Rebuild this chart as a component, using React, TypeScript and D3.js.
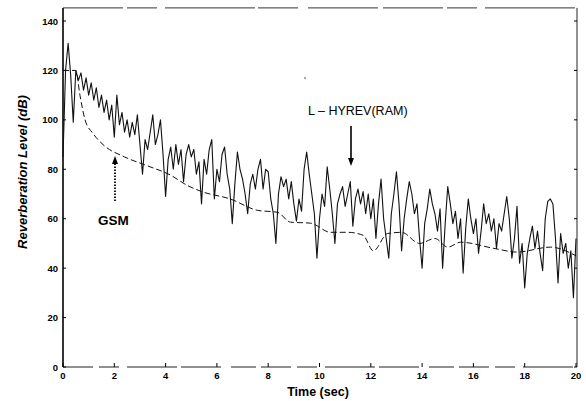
import React from "react";
import * as d3 from "d3";

const W = 586;
const H = 401;

const xTicks = [0, 2, 4, 6, 8, 10, 12, 14, 16, 18, 20];
const yTicks = [0, 20, 40, 60, 80, 100, 120, 140];

const hyrevStart = 0;
const hyrevStep = 0.1;
const hyrevLevels = [
  85, 120, 131, 118, 99, 120, 116, 119, 112, 117,
  110, 115, 108, 113, 105, 110, 103, 108, 100, 106,
  93, 110, 98, 103, 95, 100, 93, 99, 94, 102,
  90, 78, 92, 88, 95, 102, 90, 94, 100, 86,
  69, 84, 89, 80, 90, 82, 88, 75, 86, 90,
  85, 88, 78, 83, 66, 84, 78, 88, 92, 68,
  80, 75, 86, 89, 78, 72, 58, 74, 87, 80,
  76, 70, 62, 74, 78, 72, 80, 84, 72, 80,
  79, 68, 62, 50, 70, 77, 73, 76, 68, 75,
  66, 59, 68, 63, 80, 87, 78, 70, 62, 44,
  60, 70, 65, 81, 72, 62, 50, 66, 70, 73,
  65, 70, 75, 57, 68, 72, 66, 71, 62, 70,
  60, 68, 52, 66, 76, 60, 52, 44, 62, 70,
  79, 66, 47, 60, 68, 75, 70, 62, 66, 52,
  40, 58, 64, 72, 66, 62, 55, 64, 40, 58,
  73, 66, 58, 63, 52, 60, 38, 56, 68, 60,
  54, 60, 46, 55, 66, 58, 62, 55, 60, 48,
  58, 55, 62, 69, 60, 44, 52, 65, 42, 50,
  32, 46, 52, 57, 48, 55, 46, 39, 60, 67,
  68, 66, 52, 34, 54, 46, 50, 40, 47, 28,
  52,
];

const gsmTimes = [0, 0.5, 0.66, 0.86, 1.17, 1.56, 2.4, 3.24, 4.2, 4.84, 5.4, 6.52, 7.58, 8.36, 8.87, 9.65, 10.43, 11.1, 11.7, 12.1, 12.65, 13.2, 13.9, 14.5, 15.0, 15.5, 16.8, 17.7, 19.0, 20];
const gsmLevels = [120, 120, 110, 100, 94.5, 90, 85, 81.6, 77.6, 73.5, 71, 68, 63.4, 62.6, 58.6, 58.2, 54.5, 54.5, 53.3, 47, 54, 54.5, 50, 52, 48.5, 50.5, 48, 46.5, 48.5, 45];

export default function App() {
  const x = d3.scaleLinear().domain([0, 20]).range([63, 576]);
  const y = d3.scaleLinear().domain([0, 140]).range([367, 21]);
  const top = y(145.3);
  const left = x(0);
  const right = x(20) + 1;
  const bottom = y(0);

  const hyrev = hyrevLevels.map((v, i) => [hyrevStart + i * hyrevStep, v] as [number, number]);
  const gsm = gsmTimes.map((t, i) => [t, gsmLevels[i]] as [number, number]);
  const lineGen = d3.line<[number, number]>().x((d) => x(d[0])).y((d) => y(d[1]));
  const smooth = d3.line<[number, number]>().x((d) => x(d[0])).y((d) => y(d[1])).curve(d3.curveMonotoneX);

  const font = "'Liberation Sans', Arial, sans-serif";
  const arrowX = 351;
  const gsmArrowX = 115;

  return (
    <svg width={W} height={H} style={{ position: "absolute", left: 0, top: 0, background: "#fff" }}>
      {/* frame */}
      <line x1={left} x2={right} y1={top} y2={top} stroke="#333" strokeWidth={1} strokeDasharray="60,4,30,8,90,3,40,10,70,5" />
      <line x1={left} x2={right} y1={bottom} y2={bottom} stroke="#222" strokeWidth={1.2} strokeDasharray="30,6,20,8,50,4,40,10,25,5" />
      <line x1={right} x2={right} y1={top} y2={bottom} stroke="#222" strokeWidth={1} />
      <line x1={left} x2={left} y1={top} y2={bottom} stroke="#000" strokeWidth={1.6} />

      {/* y ticks */}
      {yTicks.map((t) => (
        <g key={"y" + t}>
          <line x1={left} x2={left + 3} y1={y(t)} y2={y(t)} stroke="#000" strokeWidth={1} />
          <line x1={right} x2={right - 3} y1={y(t)} y2={y(t)} stroke="#000" strokeWidth={1} />
          <text x={left - 5} y={y(t) + 3.5} textAnchor="end" fontFamily={font} fontWeight="bold" fontSize={9.5} fill="#000">
            {t}
          </text>
        </g>
      ))}

      {/* x ticks */}
      {xTicks.map((t) => (
        <g key={"x" + t}>
          <line x1={x(t)} x2={x(t)} y1={bottom} y2={bottom - 4} stroke="#000" strokeWidth={1} />
          <text x={x(t)} y={bottom + 12} textAnchor="middle" fontFamily={font} fontWeight="bold" fontSize={9.5} fill="#000">
            {t}
          </text>
        </g>
      ))}

      {/* GSM curve */}
      <path d={smooth(gsm) || ""} fill="none" stroke="#111" strokeWidth={1} strokeDasharray="6,3" />

      {/* L-HYREV trace */}
      <path d={lineGen(hyrev) || ""} fill="none" stroke="#111" strokeWidth={1.1} strokeLinejoin="round" />

      {/* annotations */}
      <text x={308} y={115} fontFamily={font} fontSize={12.5} fill="#000">L – HYREV(RAM)</text>
      <line x1={arrowX} x2={arrowX} y1={126} y2={160} stroke="#000" strokeWidth={1.6} />
      <path d={`M${arrowX - 3},${158} L${arrowX + 3},${158} L${arrowX},${166} Z`} fill="#000" />

      <line x1={gsmArrowX} x2={gsmArrowX} y1={201} y2={163} stroke="#000" strokeWidth={1.8} strokeDasharray="1.5,1.5" />
      <path d={`M${gsmArrowX - 3},${164} L${gsmArrowX + 3},${164} L${gsmArrowX},${156} Z`} fill="#000" />
      <text x={98} y={225} fontFamily={font} fontWeight="bold" fontSize={13.5} fill="#000">GSM</text>

      {/* axis titles */}
      <text x={318} y={396} textAnchor="middle" fontFamily={font} fontWeight="bold" fontSize={12.5} fill="#000">Time (sec)</text>
      <text
        transform={`translate(27,${172}) rotate(-90)`}
        textAnchor="middle"
        fontFamily={font}
        fontWeight="bold"
        fontStyle="italic"
        fontSize={13}
        fill="#000"
      >
        Reverberation Level (dB)
      </text>
      <circle cx={305} cy={78} r={0.8} fill="#333" />
    </svg>
  );
}
